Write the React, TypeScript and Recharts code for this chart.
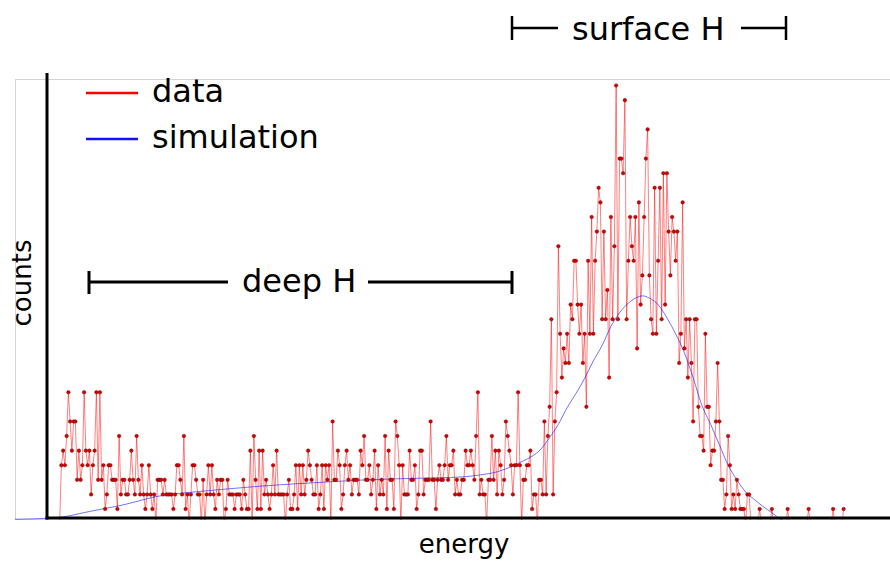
import { LineChart, Line, XAxis, YAxis } from 'recharts';

// channel of the first measured point; one channel per array entry
const firstChannel = 25;

// measured counts, split by region of the spectrum
const deepCountsA = [
  0, 4, 5, 4, 6, 9, 7, 5, 7, 7, 3, 5, 3, 4, 9, 5, 4, 5, 2, 4,
  5, 9, 3, 9, 3, 4, 1, 2, 4, 4, 3, 3, 3, 1, 6, 2, 3, 3, 2, 2,
  3, 5, 3, 2, 6, 3, 2, 4, 2, 1, 2, 4, 2, 1, 2, 0, 3, 3, 3, 2,
];
const deepCountsB = [
  3, 2, 2, 2, 2, 1, 2, 4, 4, 3, 2, 6, 1, 2, 0, 2, 4, 4, 3, 2,
  2, 0, 3, 0, 2, 4, 2, 4, 2, 1, 3, 2, 3, 3, 0, 1, 3, 2, 2, 2,
  1, 2, 2, 2, 1, 3, 2, 1, 1, 5, 0, 6, 3, 1, 5, 1, 5, 2, 3, 2,
  1, 2, 4, 2, 5, 2, 2, 2, 2, 0, 2, 3, 1, 1,
];
const deepCountsC = [
  2, 4, 1, 4, 2, 4, 2, 3, 5, 4, 3, 2, 2, 4, 1, 2, 4, 1, 4, 3,
  4, 0, 7, 3, 3, 5, 4, 1, 2, 4, 5, 3, 4, 2, 3, 3, 3, 2, 5, 4,
  6, 3, 3, 4, 2, 3, 5, 1, 4, 2, 3, 2, 6, 1, 5, 3, 3, 1, 7, 6,
  4, 0, 4, 2, 2, 2, 5, 3, 3, 4, 1, 2, 5,
];
const deepCountsD = [
  5, 2, 3, 3, 3, 7, 3, 3, 1, 3, 4, 3, 3, 4, 6, 3, 4, 4, 5, 2,
  3, 2, 2, 3, 3, 5, 4, 4, 5, 4, 3, 6, 9, 2, 3, 2, 2, 0, 3, 3,
  6, 3, 5, 2, 5, 4, 2, 3, 7, 6, 5, 4, 2, 4, 4, 9, 4, 0, 3, 3,
  4, 4, 5, 1, 2, 2, 0, 3, 3, 2, 7,
];
const surfaceCountsRise = [
  2, 6, 8, 14, 2, 7, 9, 19, 13, 10, 12, 11, 13, 11, 15, 14, 18, 18, 15, 13,
  15, 11, 13, 8, 18, 13, 21, 13, 18, 20, 23, 22, 14, 20, 14, 16, 10, 21, 14, 19,
];
const surfaceCountsPeak = [
  30, 14, 25, 25, 24, 29, 14, 18, 21, 19, 18, 21, 12, 22, 15, 17, 21, 25, 27, 17,
  14, 13, 23, 13, 18, 23, 14, 24, 15, 24, 20, 17, 21, 20, 18, 20, 11, 13, 22, 12,
  14, 10, 14, 11,
];
const surfaceCountsTail = [
  7, 14, 14, 8, 6, 6, 5, 13, 8, 8, 4, 5, 5, 7, 11, 7, 3, 3, 1, 2,
  6, 4, 1, 2, 1, 3, 2, 1, 1, 1, 0, 2, 2, 0, 0, 0, 0, 0, 1, 0,
  0, 0, 0, 0, 0, 1, 0, 0, 0, 0, 0, 0, 0, 0, 1, 0, 0, 0, 0, 0,
  0, 0, 0, 0, 0, 0, 1, 0, 0, 0, 0, 0, 0, 0, 0, 0, 0, 0, 0, 0,
  1, 0, 0, 0, 0, 0, 1,
];

// simulated spectrum (smooth curve)
const simChannels = [
  -0.5, 10, 25, 40, 50, 60, 70, 80, 90, 100, 120, 140, 160, 180, 200, 220, 240, 255,
  265, 275, 283, 290, 295, 300, 305, 310, 315, 320, 325, 330, 335, 340, 345, 350,
  355, 358, 362, 367, 372, 377, 382, 387, 392, 397, 402, 407, 412, 417, 422, 427,
  432, 437, 442, 450,
];
const simCounts = [
  0.3, 0.33, 0.43, 0.78, 1.02, 1.25, 1.55, 1.85, 2.03, 2.15, 2.37, 2.57, 2.73, 2.87, 3.0, 3.08, 3.14, 3.2,
  3.33, 3.55, 3.9, 4.3, 4.62, 5.1, 5.9, 6.8, 7.95, 8.9, 9.95, 11.15, 12.2, 13.5, 14.45, 15.1,
  15.5, 15.6, 15.45, 15.0, 14.1, 13.0, 11.7, 10.0, 8.1, 6.8, 5.4, 4.0, 3.0, 2.17, 1.65, 1.17,
  0.75, 0.3, 0.1, 0.05,
];

const counts = [
  ...deepCountsA,
  ...deepCountsB,
  ...deepCountsC,
  ...deepCountsD,
  ...surfaceCountsRise,
  ...surfaceCountsPeak,
  ...surfaceCountsTail,
];

const dataPoints = counts.map((v, i) => ({ channel: firstChannel + i, counts: v }));
const simPoints = simChannels.map((c, i) => ({ channel: c, counts: simCounts[i] }));

const font = '"DejaVu Sans", sans-serif';

export default function App() {
  return (
    <div style={{ position: 'absolute', left: 0, top: 0, width: 890, height: 561, background: '#fff', overflow: 'hidden' }}>
      {/* light frame of the plot area */}
      <svg width={890} height={561} style={{ position: 'absolute', left: 0, top: 0 }}>
        <line x1={15} y1={79.5} x2={890} y2={79.5} stroke="#d4d4d4" strokeWidth={1} />
        <line x1={15.5} y1={79} x2={15.5} y2={520} stroke="#d4d4d4" strokeWidth={1} />
        <line x1={15} y1={519.5} x2={47} y2={519.5} stroke="#d4d4d4" strokeWidth={1} />
      </svg>

      <div style={{ position: 'absolute', left: 0, top: 0 }}>
        <LineChart width={890} height={561} margin={{ top: 79, right: 0, bottom: 41, left: 15 }}>
          <XAxis type="number" dataKey="channel" domain={[-0.5, 499.5]} hide allowDataOverflow />
          <YAxis type="number" domain={[0.25, 30.45]} hide allowDataOverflow />
          <Line
            data={dataPoints}
            dataKey="counts"
            type="linear"
            stroke="rgba(255,0,0,0.5)"
            strokeWidth={1}
            dot={{ r: 1.8, fill: '#d80000', stroke: '#5a0000', strokeWidth: 0.4, strokeOpacity: 1 }}
            isAnimationActive={false}
          />
          <Line
            data={simPoints}
            dataKey="counts"
            type="monotone"
            stroke="rgba(0,0,255,0.55)"
            strokeWidth={1}
            dot={false}
            isAnimationActive={false}
          />
        </LineChart>
      </div>

      {/* axes, labels, legend and region markers */}
      <svg width={890} height={561} style={{ position: 'absolute', left: 0, top: 0, pointerEvents: 'none' }} fontFamily={font}>
        <line x1={47} y1={73} x2={47} y2={519.5} stroke="#000" strokeWidth={3} />
        <line x1={45.5} y1={518} x2={890} y2={518} stroke="#000" strokeWidth={3} />

        <text x={464} y={553} fontSize={26} textAnchor="middle" fill="#000">energy</text>
        <text transform="translate(31,283) rotate(-90)" fontSize={26} textAnchor="middle" fill="#000">counts</text>

        <line x1={86} y1={93} x2={138} y2={93} stroke="#ff0000" strokeWidth={2.5} />
        <text x={152} y={102} fontSize={32} fill="#000">data</text>
        <line x1={86} y1={139} x2={138} y2={139} stroke="#1010ff" strokeWidth={2.5} />
        <text x={152} y={148} fontSize={32} fill="#000">simulation</text>

        <g stroke="#000" strokeWidth={3}>
          <line x1={89} y1={271} x2={89} y2={294} />
          <line x1={89} y1={282} x2={228} y2={282} />
          <line x1={368} y1={282} x2={512} y2={282} />
          <line x1={512} y1={271} x2={512} y2={294} />
        </g>
        <text x={242} y={292} fontSize={32} fill="#000">deep H</text>

        <g stroke="#000" strokeWidth={2.5}>
          <line x1={512} y1={16} x2={512} y2={40} />
          <line x1={512} y1={28} x2={558} y2={28} />
          <line x1={741} y1={28} x2={786} y2={28} />
          <line x1={786} y1={16} x2={786} y2={40} />
        </g>
        <text x={572} y={40} fontSize={32} fill="#000">surface H</text>
      </svg>
    </div>
  );
}
